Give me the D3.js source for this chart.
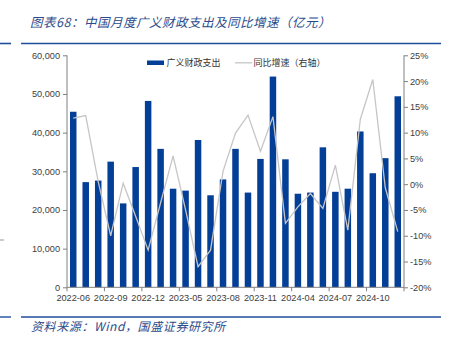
<!DOCTYPE html>
<html><head><meta charset="utf-8">
<script src="https://cdn.jsdelivr.net/npm/d3@7"></script>
<style>html,body{margin:0;padding:0;background:#fff;}svg{display:block;}</style>
</head><body>
<script>
const months = ["2022-06","2022-07","2022-08","2022-09","2022-10","2022-11","2022-12",
  "2023-03","2023-04","2023-05","2023-06","2023-07","2023-08","2023-09","2023-10","2023-11","2023-12",
  "2024-03","2024-04","2024-05","2024-06","2024-07","2024-08","2024-09","2024-10","2024-11","2024-12"];
const spending = [45400,27200,27600,32500,21700,31100,48200,35800,25500,25000,38100,23800,27900,35800,24500,33200,54500,
  33100,24200,24500,36200,24700,25500,40300,29500,33400,49400];
const growth = [12.8,13.3,0.5,-10.0,0.2,-6.2,-12.8,-3.6,5.5,-5.0,-16.0,-12.8,2.5,9.9,13.4,6.4,13.1,
  -7.6,-4.4,-1.8,-4.7,3.7,-8.9,12.6,20.3,-0.7,-9.2];
const leftTicks = [0,10000,20000,30000,40000,50000,60000];
const rightTicks = [-20,-15,-10,-5,0,5,10,15,20,25];
const xLabelIdx = [0,3,6,9,12,15,18,21,24];
const titleText = "图表68：中国月度广义财政支出及同比增速（亿元）";
const sourceText = "资料来源：Wind，国盛证券研究所";
const seriesNames = ["广义财政支出","同比增速（右轴）"];

const W=450,H=345;
const L=67,R=404,T=55.3,B=287.3;
const blue="#033e97", grey="#c6c6c6", navy="#1f4e9c", axisC="#808080", txt="#404040";

const svg=d3.select("body").append("svg").attr("width",W).attr("height",H);
svg.append("rect").attr("width",W).attr("height",H).attr("fill","#fff");

// title
svg.append("text").attr("x",30).attr("y",27).attr("fill","#2b4b8c")
  .attr("font-family","'Noto Sans CJK SC',sans-serif").attr("font-style","italic")
  .attr("font-size",12.5).attr("letter-spacing",0.5).text(titleText);
svg.append("line").attr("x1",0).attr("x2",11).attr("y1",43.5).attr("y2",43.5).attr("stroke",navy).attr("stroke-width",1.6);
svg.append("line").attr("x1",21).attr("x2",441).attr("y1",43.5).attr("y2",43.5).attr("stroke",navy).attr("stroke-width",1.6);

// footer
svg.append("line").attr("x1",0).attr("x2",11).attr("y1",317).attr("y2",317).attr("stroke",navy).attr("stroke-width",1.4);
svg.append("line").attr("x1",21).attr("x2",441).attr("y1",317).attr("y2",317).attr("stroke",navy).attr("stroke-width",1.4);
svg.append("text").attr("x",31).attr("y",331).attr("fill","#2b4b8c")
  .attr("font-family","'Noto Sans CJK SC',sans-serif").attr("font-style","italic")
  .attr("font-size",12).attr("letter-spacing",0.6).text(sourceText);
svg.append("line").attr("x1",0).attr("x2",4).attr("y1",240).attr("y2",240).attr("stroke","#999").attr("stroke-width",1);

const x=d3.scaleBand().domain(d3.range(months.length)).range([L,R]).paddingInner(0.48).paddingOuter(0.24);
const yL=d3.scaleLinear().domain([0,60000]).range([B,T]);
const yR=d3.scaleLinear().domain([-20,25]).range([B,T]);

// bars
svg.append("g").selectAll("rect").data(spending).join("rect")
  .attr("x",(d,i)=>x(i)).attr("width",x.bandwidth())
  .attr("y",d=>yL(d)).attr("height",d=>B-yL(d)).attr("fill",blue);

// line
const line=d3.line().x((d,i)=>x(i)+x.bandwidth()/2).y(d=>yR(d));
svg.append("path").datum(growth).attr("d",line).attr("fill","none").attr("stroke",grey).attr("stroke-width",1.3);

// left axis
const fmt=d3.format(",");
const gl=svg.append("g").attr("transform",`translate(${L},0)`)
  .call(d3.axisLeft(yL).tickValues(leftTicks).tickSize(4).tickPadding(3).tickFormat(d=>fmt(d)));
// right axis
const gr=svg.append("g").attr("transform",`translate(${R},0)`)
  .call(d3.axisRight(yR).tickValues(rightTicks).tickSize(4).tickPadding(2).tickFormat(d=>d+"%"));
// x axis
const step=x.step();
const gx=svg.append("g").attr("transform",`translate(0,${B})`);
gx.append("line").attr("x1",L).attr("x2",R).attr("stroke",axisC);
gx.selectAll("line.t").data(d3.range(0,months.length+1,3)).join("line").attr("class","t")
  .attr("x1",k=>L+k*step).attr("x2",k=>L+k*step).attr("y1",0).attr("y2",4).attr("stroke",axisC);
gx.selectAll("text").data(xLabelIdx).join("text")
  .attr("x",i=>x(i)+x.bandwidth()/2).attr("y",14).attr("text-anchor","middle")
  .attr("font-family","'Liberation Sans',Arial,sans-serif").attr("font-size",9.2).attr("fill",txt)
  .text(i=>months[i]);

[gl,gr].forEach(g=>{
  g.selectAll(".domain").attr("stroke",axisC).attr("d",`M0,${T}V${B}`);
  g.selectAll(".tick line").attr("stroke",axisC);
  g.selectAll(".tick text").attr("font-family","'Liberation Sans',Arial,sans-serif").attr("font-size",9.2).attr("fill",txt);
});

// legend
const lg=svg.append("g");
lg.append("rect").attr("x",147).attr("y",60.5).attr("width",17).attr("height",4.5).attr("fill",blue);
lg.append("text").attr("x",166.5).attr("y",66.2).attr("font-family","'Noto Sans CJK SC',sans-serif")
  .attr("font-size",9).attr("fill","#333").text(seriesNames[0]);
lg.append("line").attr("x1",235).attr("x2",252).attr("y1",62.8).attr("y2",62.8).attr("stroke",grey).attr("stroke-width",1.3);
lg.append("text").attr("x",253.5).attr("y",66.2).attr("font-family","'Noto Sans CJK SC',sans-serif")
  .attr("font-size",9).attr("fill","#333").text(seriesNames[1]);
</script>
</body></html>
